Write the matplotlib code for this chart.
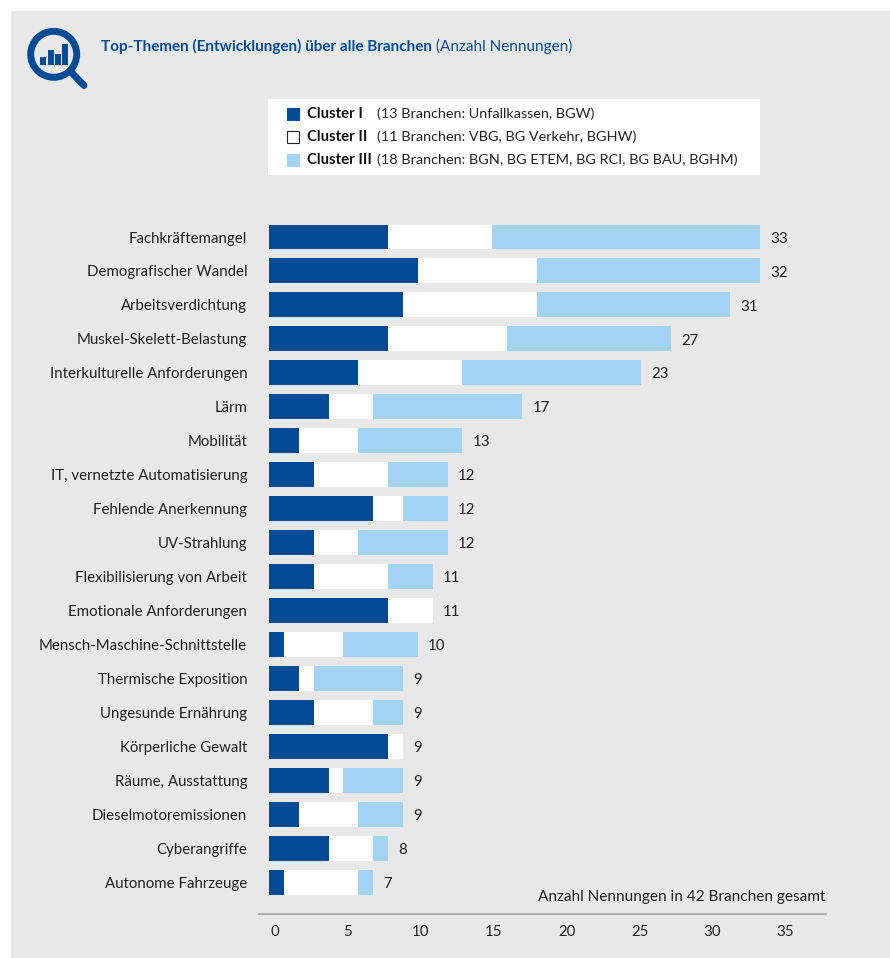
import matplotlib
matplotlib.use("Agg")
from matplotlib import pyplot as plt
from matplotlib.patches import Circle, Rectangle

plt.rcParams['font.family'] = ['Lato', 'DejaVu Sans']

topics = ["Fachkräftemangel", "Demografischer Wandel", "Arbeitsverdichtung", "Muskel-Skelett-Belastung",
          "Interkulturelle Anforderungen", "Lärm", "Mobilität", "IT, vernetzte Automatisierung",
          "Fehlende Anerkennung", "UV-Strahlung", "Flexibilisierung von Arbeit", "Emotionale Anforderungen",
          "Mensch-Maschine-Schnittstelle", "Thermische Exposition", "Ungesunde Ernährung", "Körperliche Gewalt",
          "Räume, Ausstattung", "Dieselmotoremissionen", "Cyberangriffe", "Autonome Fahrzeuge"]
cluster_1 = [8, 10, 9, 8, 6, 4, 2, 3, 7, 3, 3, 8, 1, 2, 3, 8, 4, 2, 4, 1]
cluster_2 = [7, 8, 9, 8, 7, 3, 4, 5, 2, 3, 5, 3, 4, 1, 4, 1, 1, 4, 3, 5]
cluster_3 = [18, 15, 13, 11, 12, 10, 7, 4, 3, 6, 3, 0, 5, 6, 2, 0, 4, 3, 1, 1]
totals = [33, 32, 31, 27, 23, 17, 13, 12, 12, 12, 11, 11, 10, 9, 9, 9, 9, 9, 8, 7]
x_ticks = [0, 5, 10, 15, 20, 25, 30, 35]

legend_names = ["Cluster I", "Cluster II", "Cluster III"]
legend_notes = ["(13 Branchen: Unfallkassen, BGW)", "(11 Branchen: VBG, BG Verkehr, BGHW)",
                "(18 Branchen: BGN, BG ETEM, BG RCI, BG BAU, BGHM)"]

BLUE = "#004B96"
LIGHT = "#A3D4F5"
GREY = "#E8E8E8"
TEXT = "#222222"
W, H = 890, 958
FS = 10.8

fig = plt.figure(figsize=(W / 100, H / 100), dpi=100, facecolor="white")

# page layer in pixel coordinates: panel, icon, title, legend
bg = fig.add_axes([0, 0, 1, 1], zorder=0)
bg.set_xlim(0, W)
bg.set_ylim(H, 0)
bg.axis("off")
bg.add_patch(Rectangle((11, 11), W - 11, H - 11, fc=GREY, ec="none"))

bg.add_patch(Circle((53.7, 54.3), 23, fc="none", ec=BLUE, lw=5))
bg.plot([72, 84], [73, 85.5], color=BLUE, lw=5, solid_capstyle="round")
for bx, top in [(40, 57), (47.5, 50), (55, 54), (62, 44)]:
    bg.add_patch(Rectangle((bx, top), 6, 65 - top, fc=BLUE, ec="none"))

t1 = bg.text(101, 46, "Top-Themen (Entwicklungen) über alle Branchen", color=BLUE, fontsize=11,
             fontweight="bold", va="center")
fig.canvas.draw()
end = t1.get_window_extent().x1
bg.text(end + 4, 46, "(Anzahl Nennungen)", color=BLUE, fontsize=11, va="center")

bg.add_patch(Rectangle((268, 99), 492, 76, fc="white", ec="none"))
legend_colors = [BLUE, "white", LIGHT]
legend_edges = [BLUE, "#222222", LIGHT]
for i, name in enumerate(legend_names):
    y = 114 + i * 23
    bg.add_patch(Rectangle((287, y - 6), 11.5, 11.5, fc=legend_colors[i], ec=legend_edges[i], lw=0.8))
    bg.text(307, y, name, color="#111111", fontsize=10.7, fontweight="bold", va="center")
    bg.text(377, y, legend_notes[i], color=TEXT, fontsize=10.4, va="center")

# chart layer: one x unit is 14.88 px, one row is 33.95 px
px_x = 14.88
px_row = 33.95
ax_left, ax_right, ax_top, ax_bottom = 259, 826, 210, 914
ax = fig.add_axes([ax_left / W, 1 - ax_bottom / H, (ax_right - ax_left) / W, (ax_bottom - ax_top) / H],
                  zorder=1)
ax.patch.set_alpha(0)
ax.set_xlim((ax_left - 269) / px_x, (ax_right - 269) / px_x)
ax.set_ylim((ax_bottom - 237) / px_row, (ax_top - 237) / px_row)

rows = list(range(len(topics)))
left_2 = [a for a in cluster_1]
left_3 = [a + b for a, b in zip(cluster_1, cluster_2)]
ax.barh(rows, cluster_1, height=0.736, color=BLUE)
ax.barh(rows, cluster_2, left=left_2, height=0.736, color="white")
ax.barh(rows, cluster_3, left=left_3, height=0.736, color=LIGHT)

for r, total in enumerate(totals):
    end_x = left_3[r] + cluster_3[r]
    ax.annotate(str(total), xy=(end_x, r), xytext=(7.5, -1.2), textcoords="offset points",
                va="center", ha="left", fontsize=FS, color=TEXT)

ax.set_yticks(rows, topics, fontsize=FS, color=TEXT)
# the printed scale runs slightly tighter than the bars
ax.set_xticks([0.38 + t * 0.981 for t in x_ticks], [str(t) for t in x_ticks], fontsize=FS, color=TEXT)
ax.tick_params(axis="y", length=0, pad=8.5)
ax.tick_params(axis="x", length=0, pad=8)
for side in ["top", "right", "left"]:
    ax.spines[side].set_visible(False)
ax.spines["bottom"].set_color("#A8A8A8")
ax.spines["bottom"].set_linewidth(1.3)

bg.text(825, 896.5, "Anzahl Nennungen in 42 Branchen gesamt", color=TEXT, fontsize=11.1, ha="right", va="center")

fig.savefig("out.png", dpi=100, facecolor=fig.get_facecolor())
